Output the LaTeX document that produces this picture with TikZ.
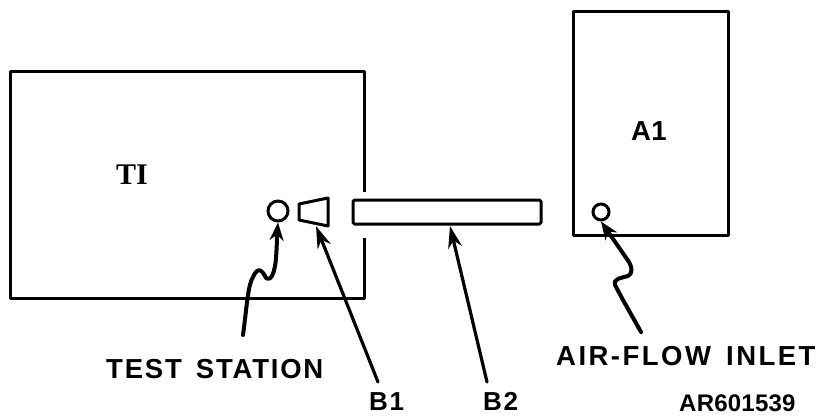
\documentclass[tikz,border=0pt]{standalone}
\usepackage{fontspec}
\setmainfont{Liberation Sans}
\newfontfamily\lbl[LetterSpace=6.5,WordSpace=1.5]{Liberation Sans Bold}
\newfontfamily\lblwide[LetterSpace=9,WordSpace=1.5]{Liberation Sans Bold}
\newfontfamily\plainbold[LetterSpace=1]{Liberation Sans Bold}
\newfontfamily\slab{Liberation Serif Bold}
\usetikzlibrary{arrows.meta}
\tikzset{
 box/.style={line width=3pt,line join=round,black},
 lead/.style={line width=4pt,line cap=round,line join=round,-{Stealth[length=18pt,width=14pt]}},
 thin lead/.style={line width=3.2pt,line cap=round,-{Stealth[length=22pt,width=14pt]}},
 port/.style={circle,draw,line width=3pt,inner sep=0pt},
 caption/.style={inner sep=0pt,font=\lbl\fontsize{27.5}{28}\selectfont,anchor=base west},
}
\begin{document}
\begin{tikzpicture}[x=1pt,y=-1pt]
\useasboundingbox (0,0) rectangle (819,415);
\draw[box] (364,192) -- (364,71) -- (10,71) -- (10,298) -- (364,298) -- (364,238);
\draw[box,rounded corners=1.5pt] (353,200) rectangle (541,224);
\draw[box] (573,11) rectangle (728,235);
\node[port,minimum size=20pt] (ts) at (278,211) {};
\node[port,minimum size=16pt] (af) at (601,212) {};
\draw[box,fill=white] (299,204) -- (328,198) -- (328,226) -- (299,220) -- cycle;
\coordinate (b1tip) at (316,226);
\coordinate (b2tip) at (450,226);
\node[caption] (tstext) at (106,378) {TEST STATION};
\node[caption,font=\lblwide\fontsize{27.5}{28}\selectfont] (aftext) at (556,365) {AIR-FLOW INLET};
\node[caption,font=\lbl\fontsize{26}{26}\selectfont] (b1text) at (369,410) {B1};
\node[caption,font=\lbl\fontsize{26}{26}\selectfont] (b2text) at (483,410) {B2};
\node[inner sep=0pt,font=\plainbold\fontsize{24}{24}\selectfont,anchor=base west] (ar) at (679,411) {AR601539};
\node[inner sep=0pt,font=\plainbold\fontsize{27.5}{28}\selectfont,anchor=base west] (a1) at (631,140) {A1};
\node[inner sep=0pt,font=\slab\fontsize{30}{30}\selectfont,anchor=base west] (ti) at (116,184) {TI};
\draw[lead] (243,335) .. controls (247,305) and (248,285) .. (253,277) .. controls (258,266) and (262,270) .. (266,278) .. controls (272,282) and (275,270) .. (276,258) .. controls (277,245) and (277,235) .. (ts.south);
\draw[lead] (641,332) -- (623,300) -- (615,285) .. controls (613,278) and (622,278) .. (628,276) .. controls (634,272) and (631,266) .. (629,262) -- (af.south);
\draw[thin lead] (378,382) -- (b1tip);
\draw[thin lead] (487,382) -- (b2tip);
\end{tikzpicture}
\end{document}
